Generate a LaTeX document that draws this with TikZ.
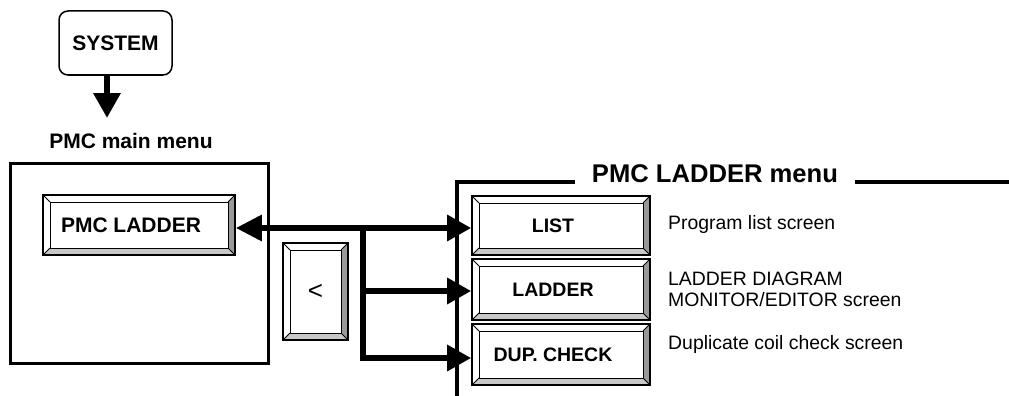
\documentclass[tikz,border=0pt]{standalone}
\usepackage{fontspec}
\setmainfont{Liberation Sans}
\usetikzlibrary{arrows.meta,calc,positioning}
\definecolor{KeyShade}{HTML}{C8C8C8}
\definecolor{KeyDark}{HTML}{999999}
\tikzset{
  keybtn/.style={draw,line width=1.6pt,fill=white,inner sep=0pt,
    path picture={
      \path (path picture bounding box.south west) coordinate (kSW)
            (path picture bounding box.south east) coordinate (kSE)
            (path picture bounding box.north east) coordinate (kNE)
            (path picture bounding box.north west) coordinate (kNW);
      \fill[KeyShade] (kSW) -- (kSE) -- ($(kSE)+(-7pt,7pt)$)
        -- ($(kSW)+(7pt,7pt)$) -- cycle;
      \fill[KeyDark] (kSE) -- (kNE) -- ($(kNE)+(-7pt,-7pt)$)
        -- ($(kSE)+(-7pt,7pt)$) -- cycle;
      \draw[line width=0.8pt] ($(kSW)+(7pt,7pt)$) rectangle ($(kNE)+(-7pt,-7pt)$);
      \draw[line width=0.8pt] (kSW) -- ++(7pt,7pt) (kSE) -- ++(-7pt,7pt)
        (kNE) -- ++(-7pt,-7pt) (kNW) -- ++(7pt,-7pt);
    }},
  softkey/.style={keybtn,font=\bfseries\fontsize{19.5}{22}\selectfont,
    execute at end node={\kern16pt}},
  heavy/.style={line width=6pt},
  bighead/.style={-{Triangle[length=24pt,width=25pt]}},
  frame/.style={line width=3.5pt},
  desc/.style={inner sep=0pt,font=\fontsize{19.4}{21}\selectfont}
}

\begin{document}
\begin{tikzpicture}[x=1pt,y=-1pt]

        \useasboundingbox (0,0) rectangle (1009,396);

        \node[draw,line width=1.5pt,rounded corners=9pt,
          minimum width=113pt,minimum height=64pt,
          font=\bfseries\fontsize{21}{24}\selectfont]
          (sys) at (115.5,43) {SYSTEM};
        \coordinate (systip) at (107,118);
        \draw[line width=6.5pt,-{Triangle[length=25pt,width=26pt]}]
          (sys.south -| systip) -- (systip);

        \node[anchor=base,inner sep=0pt,
          font=\bfseries\fontsize{21}{24}\selectfont]
          (mainlbl) at (131,148) {PMC main menu};

        \node[draw,line width=3pt,minimum width=258pt,minimum height=200pt]
          (mainbox) at (139,263) {};
        \node[softkey,font=\bfseries\fontsize{21}{24}\selectfont,
          minimum width=192pt,minimum height=60pt]
          (ladbtn) at (139,225) {PMC LADDER};

        \node[keybtn,font=\fontsize{26}{28}\selectfont,
          minimum width=65pt,minimum height=97pt]
          (backkey) at (315.5,291.5) {<};

        \coordinate (frmbot) at (457,396);
        \coordinate (frmend) at (1009,182);
        \node[anchor=base,inner sep=0pt,
          font=\bfseries\fontsize{25.6}{28}\selectfont]
          (menulbl) at (715,182) {PMC LADDER menu};
        \draw[frame] (frmbot) |- ([xshift=-17pt]menulbl.base west);
        \draw[frame] ([xshift=17pt]menulbl.base east) -- (frmend);

        \node[softkey,minimum width=178pt,minimum height=59pt]
          (listkey) at (561,225.5) {LIST};
        \node[softkey,minimum width=178pt,minimum height=61pt]
          (ladkey) at (561,289.5) {LADDER};
        \node[softkey,minimum width=178pt,minimum height=61pt]
          (dupkey) at (561,354.5) {DUP. CHECK};

        \coordinate (bus) at (363,228);
        \draw[heavy,{Triangle[length=26pt,width=25pt]}-{Triangle[length=24pt,width=25pt]}]
          (ladbtn.east |- bus) -- (listkey.west |- bus);
        \draw[heavy,bighead] (bus) |- ([yshift=-1.5pt]ladkey.west);
        \draw[heavy,bighead] (bus) |- ([yshift=-3.5pt]dupkey.west);

        \node[desc,anchor=base west] (listdesc) at (668,229)
          {Program list screen};
        \node[desc,anchor=base west,align=left] (laddesc) at (668,306)
          {LADDER DIAGRAM\\MONITOR/EDITOR screen};
        \node[desc,anchor=base west] (dupdesc) at (668,349)
          {Duplicate coil check screen};

      \end{tikzpicture}
\end{document}
